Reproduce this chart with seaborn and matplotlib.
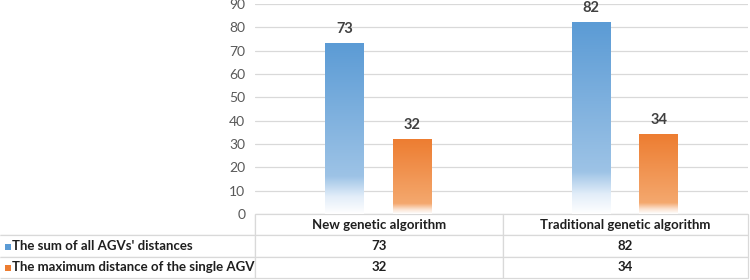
import numpy as np
import pandas as pd
import matplotlib
matplotlib.use("Agg")
import matplotlib.pyplot as plt
from matplotlib.colors import LinearSegmentedColormap, to_rgba
from matplotlib.patches import Rectangle
import seaborn as sns

categories = ["New genetic algorithm", "Traditional genetic algorithm"]
series_names = ["The sum of all AGVs' distances", "The maximum distance of the single AGV"]
sum_distance = [73, 82]
max_distance = [32, 34]
y_ticks = [0, 10, 20, 30, 40, 50, 60, 70, 80, 90]

BLUE = "#5B9BD5"
ORANGE = "#ED7D31"
TEXT = "#1F1F1F"

df = pd.DataFrame({
    "algorithm": categories * 2,
    "value": sum_distance + max_distance,
    "series": [series_names[0]] * 2 + [series_names[1]] * 2,
})

sns.set_theme(style="white")
plt.rcParams["font.family"] = ["Lato", "DejaVu Sans"]

fig = plt.figure(figsize=(7.5, 2.8), dpi=100)
ax = fig.add_axes([255 / 750, 1 - 214 / 280, 493 / 750, 210 / 280])

sns.barplot(
    data=df, x="algorithm", y="value", hue="series",
    palette=[BLUE, ORANGE], saturation=1, width=0.55, gap=0.43,
    legend=False, ax=ax,
)

# excel-like vertical gradient fill, fading to white at the bottom
gradients = {
    BLUE: LinearSegmentedColormap.from_list(
        "b", [(0.0, "#FFFFFF"), (0.1, "#E3EEF9"), (0.22, "#9DC3E6"), (1.0, BLUE)]),
    ORANGE: LinearSegmentedColormap.from_list(
        "o", [(0.0, "#FFFFFF"), (0.06, "#FBE3D2"), (0.14, "#F4A86E"), (1.0, ORANGE)]),
}


def closest_key(rgba):
    return min(gradients, key=lambda k: sum((a - b) ** 2 for a, b in zip(to_rgba(k), rgba)))


ramp = np.linspace(0, 1, 256).reshape(-1, 1)
for patch in list(ax.patches):
    x0, w = patch.get_x(), patch.get_width()
    h = patch.get_height()
    cmap = gradients[closest_key(patch.get_facecolor())]
    ax.imshow(ramp, cmap=cmap, origin="lower", aspect="auto",
              extent=[x0, x0 + w, 0, h], zorder=patch.get_zorder() + 0.1)
    patch.set_facecolor("none")
    patch.set_edgecolor("none")
    ax.text(x0 + w / 2, h + 6.3, f"{h:.0f}", ha="center", va="center",
            fontsize=10.5, fontweight="bold", color="#404040", clip_on=False)

ax.set_xlim(-0.5, 1.5)
ax.set_ylim(0, 90)
ax.set_yticks(y_ticks)
ax.set_yticklabels([str(t) for t in y_ticks], fontsize=10, color="#595959")
ax.tick_params(axis="y", length=0, pad=7)
ax.set_xticks([])
ax.set_xlabel("")
ax.set_ylabel("")
ax.yaxis.grid(True, color="#D9D9D9", linewidth=0.9)
ax.set_axisbelow(True)
for s in ax.spines.values():
    s.set_visible(False)

# data table below the plot
left_frac = 255 / 493
rows = [[series_names[0]] + [str(v) for v in sum_distance],
        [series_names[1]] + [str(v) for v in max_distance]]
table = ax.table(
    cellText=rows, colLabels=[""] + categories, cellLoc="center",
    colWidths=[255, 248, 245], bbox=[-left_frac, -64 / 210, 1 + left_frac, 64 / 210],
)
table.auto_set_font_size(False)
for (r, c), cell in table.get_celld().items():
    cell.set_edgecolor("#D9D9D9")
    cell.set_linewidth(0.9)
    cell.set_text_props(fontsize=9.5, fontweight="bold", color=TEXT)
    if r == 0 and c == 0:
        cell.visible_edges = "BR"
    elif c == 0:
        cell.visible_edges = "TBR"
        cell.PAD = 0.048
        cell._loc = "left"
        cell.get_text().set_ha("left")

# legend keys inside the row label cells
for i, color in enumerate([BLUE, ORANGE]):
    yc = (-32.5 - 21 * i) / 210
    ax.add_patch(Rectangle((-250 / 493, yc - 3 / 210), 6 / 493, 6 / 210,
                           transform=ax.transAxes, facecolor=color,
                           edgecolor="none", clip_on=False))

fig.savefig("out.png", dpi=100)
